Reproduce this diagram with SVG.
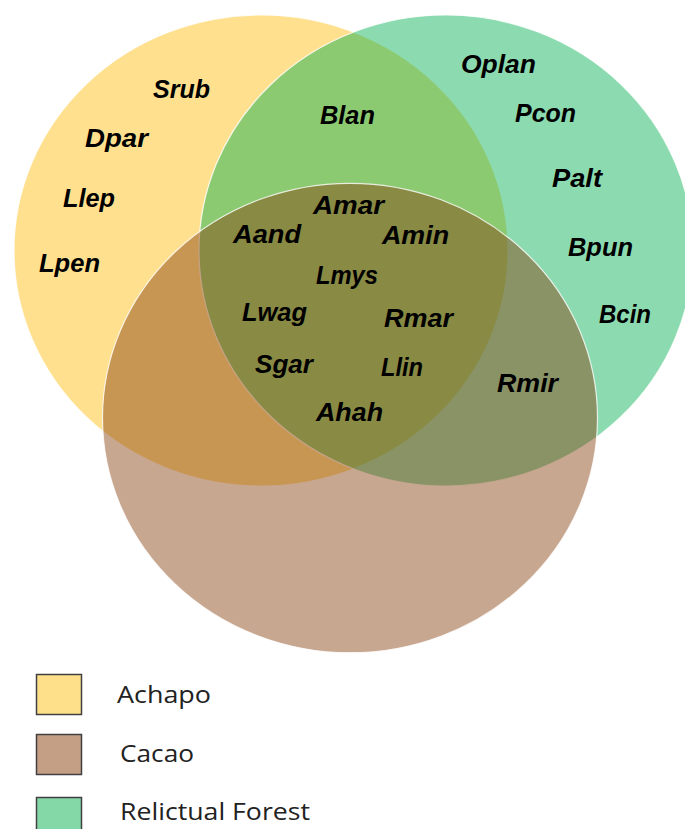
<svg xmlns="http://www.w3.org/2000/svg" width="685" height="829" viewBox="0 0 685 829">
<style>
.lbl{font-family:"Liberation Sans",Arial,sans-serif;font-weight:bold;font-style:italic;font-size:25px;fill:#000}
.leg{font-family:"Open Sans","Liberation Sans",Arial,sans-serif;font-size:24px;fill:#222}
.set{stroke:#fff;stroke-width:1.2;stroke-opacity:0.8}
.box{stroke:#404040;stroke-width:1.5}
</style>
<rect width="685" height="829" fill="#fff"/>
<g id="set-achapo">
<ellipse class="set" cx="261" cy="250.5" rx="247" ry="235.5" fill="#FFE08F"/>
</g>
<g id="set-relictual-forest">
<ellipse class="set" cx="446" cy="250.5" rx="247" ry="235.5" fill="#00B050" fill-opacity="0.45"/>
</g>
<g id="set-cacao">
<ellipse class="set" cx="350" cy="418" rx="247.5" ry="234.7" fill="#843C0C" fill-opacity="0.45"/>
</g>
<g id="labels">
<text class="lbl" x="153" y="98" textLength="57" lengthAdjust="spacingAndGlyphs">Srub</text>
<text class="lbl" x="85" y="147" textLength="63" lengthAdjust="spacingAndGlyphs">Dpar</text>
<text class="lbl" x="63" y="207" textLength="52" lengthAdjust="spacingAndGlyphs">Llep</text>
<text class="lbl" x="39" y="272" textLength="61" lengthAdjust="spacingAndGlyphs">Lpen</text>
<text class="lbl" x="320" y="124" textLength="55" lengthAdjust="spacingAndGlyphs">Blan</text>
<text class="lbl" x="461" y="73" textLength="75" lengthAdjust="spacingAndGlyphs">Oplan</text>
<text class="lbl" x="515" y="122" textLength="61" lengthAdjust="spacingAndGlyphs">Pcon</text>
<text class="lbl" x="552" y="187" textLength="50" lengthAdjust="spacingAndGlyphs">Palt</text>
<text class="lbl" x="568" y="256" textLength="65" lengthAdjust="spacingAndGlyphs">Bpun</text>
<text class="lbl" x="599" y="323" textLength="52" lengthAdjust="spacingAndGlyphs">Bcin</text>
<text class="lbl" x="497" y="392" textLength="61" lengthAdjust="spacingAndGlyphs">Rmir</text>
<text class="lbl" x="313" y="214" textLength="71" lengthAdjust="spacingAndGlyphs">Amar</text>
<text class="lbl" x="233" y="243" textLength="68" lengthAdjust="spacingAndGlyphs">Aand</text>
<text class="lbl" x="382" y="244" textLength="67" lengthAdjust="spacingAndGlyphs">Amin</text>
<text class="lbl" x="316" y="284" textLength="62" lengthAdjust="spacingAndGlyphs">Lmys</text>
<text class="lbl" x="242" y="321" textLength="65" lengthAdjust="spacingAndGlyphs">Lwag</text>
<text class="lbl" x="384" y="327" textLength="69" lengthAdjust="spacingAndGlyphs">Rmar</text>
<text class="lbl" x="255" y="373" textLength="58" lengthAdjust="spacingAndGlyphs">Sgar</text>
<text class="lbl" x="381" y="376" textLength="42" lengthAdjust="spacingAndGlyphs">Llin</text>
<text class="lbl" x="316" y="421" textLength="67" lengthAdjust="spacingAndGlyphs">Ahah</text>
</g>
<g id="legend-achapo">
<rect class="box" x="36.5" y="674.5" width="45" height="40" fill="#FFE08A"/>
<text class="leg" x="117" y="703" textLength="94" lengthAdjust="spacingAndGlyphs">Achapo</text>
</g>
<g id="legend-cacao">
<rect class="box" x="36.5" y="734.5" width="45" height="40" fill="#C49F86"/>
<text class="leg" x="120" y="762" textLength="74" lengthAdjust="spacingAndGlyphs">Cacao</text>
</g>
<g id="legend-relictual-forest">
<rect class="box" x="36.5" y="797.5" width="45" height="40" fill="#84D8A8"/>
<text class="leg" x="120" y="820" textLength="190" lengthAdjust="spacingAndGlyphs">Relictual Forest</text>
</g>
</svg>
